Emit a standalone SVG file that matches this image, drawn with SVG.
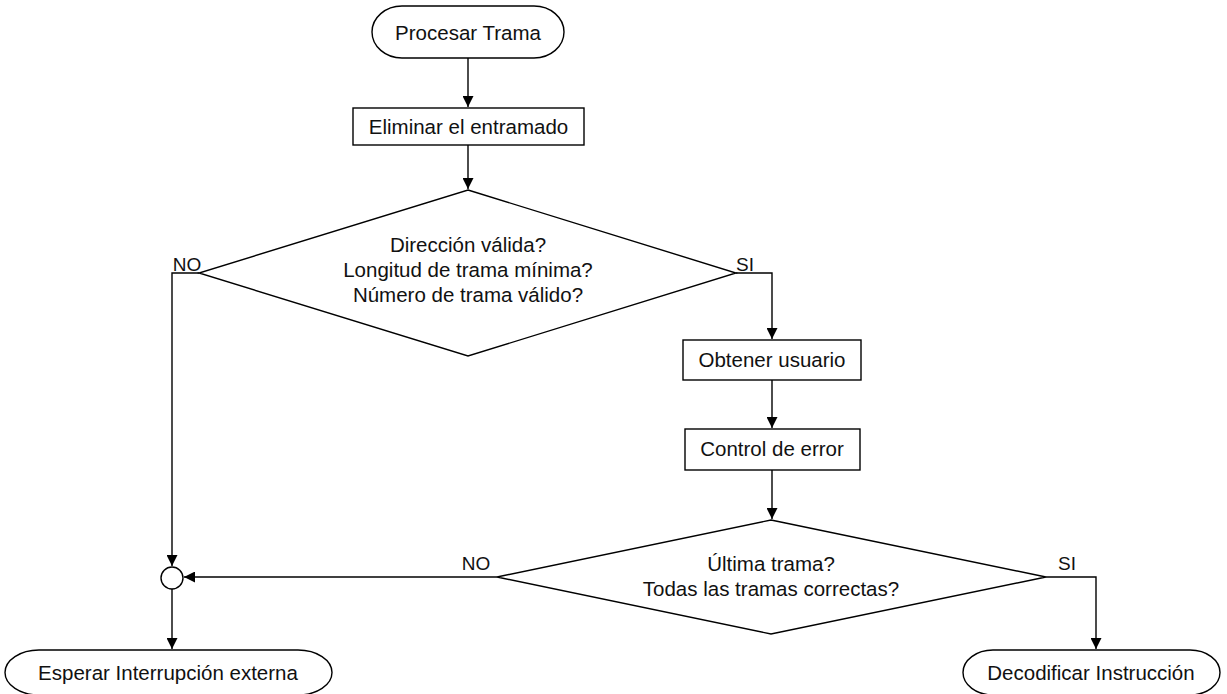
<svg xmlns="http://www.w3.org/2000/svg" width="1227" height="694" viewBox="0 0 1227 694">
<style>
.s{fill:#fff;stroke:#000;stroke-width:1.4}
.t{font-family:"Liberation Sans",Arial,sans-serif;font-size:20.5px;fill:#111;text-anchor:middle}
.l{font-family:"Liberation Sans",Arial,sans-serif;font-size:19px;fill:#111;text-anchor:middle}
.c{fill:none;stroke:#000;stroke-width:1.4}
</style>
<defs>
<marker id="a" viewBox="0 0 10 10" refX="10" refY="5" markerWidth="12" markerHeight="11" markerUnits="userSpaceOnUse" orient="auto">
<path d="M0,0 L10,5 L0,10 z" fill="#000"/>
</marker>
</defs>
<rect width="1227" height="694" fill="#fff"/>
<g id="connectors">
<path class="c" d="M468,58 V107" marker-end="url(#a)"/>
<path class="c" d="M468,145 V189" marker-end="url(#a)"/>
<path class="c" d="M736,273 H772 V339" marker-end="url(#a)"/>
<path class="c" d="M772,380 V428" marker-end="url(#a)"/>
<path class="c" d="M772,470 V519" marker-end="url(#a)"/>
<path class="c" d="M199,273 H172 V566" marker-end="url(#a)"/>
<path class="c" d="M497,577 H184" marker-end="url(#a)"/>
<path class="c" d="M172,589 V649" marker-end="url(#a)"/>
<path class="c" d="M1046,577 H1096 V649" marker-end="url(#a)"/>
<text class="l" x="187" y="271">NO</text>
<text class="l" x="745" y="271">SI</text>
<text class="l" x="476" y="570">NO</text>
<text class="l" x="1067" y="570">SI</text>
</g>
<g id="procesar">
<rect class="s" x="372" y="6" width="192" height="52" rx="30" ry="26"/>
<text class="t" x="468" y="40">Procesar Trama</text>
</g>
<g id="eliminar">
<rect class="s" x="353" y="108" width="231" height="37"/>
<text class="t" x="468.5" y="134">Eliminar el entramado</text>
</g>
<g id="decision1">
<polygon class="s" points="468,190 736,273 468,356 199,273"/>
<text class="t" x="468" y="252">Dirección válida?</text>
<text class="t" x="468" y="277">Longitud de trama mínima?</text>
<text class="t" x="468" y="302">Número de trama válido?</text>
</g>
<g id="obtener">
<rect class="s" x="683" y="340" width="178" height="40"/>
<text class="t" x="772" y="367">Obtener usuario</text>
</g>
<g id="control">
<rect class="s" x="685" y="429" width="175" height="41"/>
<text class="t" x="772" y="456">Control de error</text>
</g>
<g id="decision2">
<polygon class="s" points="771,520 1046,577 771,634 497,577"/>
<text class="t" x="771" y="571">Última trama?</text>
<text class="t" x="771" y="596">Todas las tramas correctas?</text>
</g>
<g id="junction">
<circle class="s" cx="172" cy="578" r="11"/>
</g>
<g id="esperar">
<rect class="s" x="5" y="650" width="327" height="45" rx="34" ry="26"/>
<text class="t" x="168" y="680">Esperar Interrupción externa</text>
</g>
<g id="decodificar">
<rect class="s" x="963" y="650" width="257" height="45" rx="30" ry="26"/>
<text class="t" x="1091" y="680">Decodificar Instrucción</text>
</g>
</svg>
